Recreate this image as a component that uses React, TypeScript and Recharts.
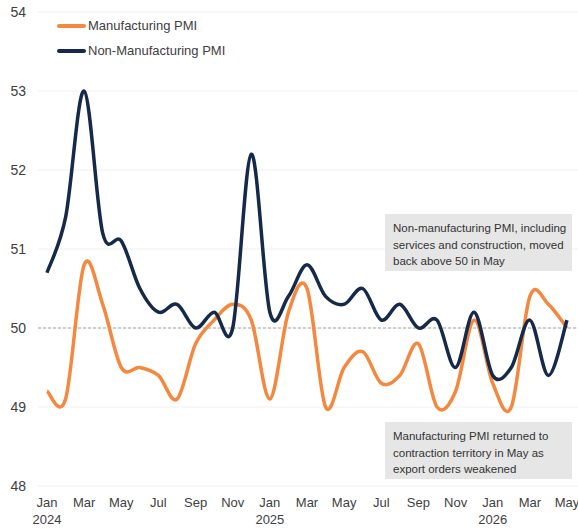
import React from "react";
import { LineChart, Line, XAxis, YAxis, CartesianGrid, ReferenceLine } from "recharts";

const MONTHS = [
  "Jan", "Feb", "Mar", "Apr", "May", "Jun", "Jul", "Aug", "Sep", "Oct", "Nov", "Dec",
  "Jan", "Feb", "Mar", "Apr", "May", "Jun", "Jul", "Aug", "Sep", "Oct", "Nov", "Dec",
  "Jan", "Feb", "Mar", "Apr", "May",
];
const YEARS = ["2024", "2025", "2026"];

const manufacturing = [
  49.2, 49.1, 50.8, 50.3, 49.5, 49.5, 49.4, 49.1, 49.8, 50.1, 50.3, 50.1,
  49.1, 50.2, 50.5, 49.0, 49.5, 49.7, 49.3, 49.4, 49.8, 49.0, 49.2, 50.1,
  49.3, 49.0, 50.4, 50.3, 50.0,
];
const nonManufacturing = [
  50.7, 51.4, 53.0, 51.2, 51.1, 50.5, 50.2, 50.3, 50.0, 50.2, 50.0, 52.2,
  50.2, 50.4, 50.8, 50.4, 50.3, 50.5, 50.1, 50.3, 50.0, 50.1, 49.5, 50.2,
  49.4, 49.5, 50.1, 49.4, 50.1,
];
const Y_TICKS = [48, 49, 50, 51, 52, 53, 54];

const ORANGE = "#F5883F";
const NAVY = "#15294A";

const data = MONTHS.map((m, i) => ({
  idx: i,
  month: m,
  year: m === "Jan" ? YEARS[Math.floor(i / 12)] : "",
  mfg: manufacturing[i],
  nonMfg: nonManufacturing[i],
}));

// smooth curve similar to spreadsheet "smoothed line"
const smoothCurve = (context: any) => {
  let pts: [number, number][] = [];
  return {
    areaStart() {},
    areaEnd() {},
    lineStart() {
      pts = [];
    },
    point(x: number, y: number) {
      pts.push([+x, +y]);
    },
    lineEnd() {
      if (!pts.length) return;
      context.moveTo(pts[0][0], pts[0][1]);
      for (let i = 0; i < pts.length - 1; i++) {
        const p0 = pts[i - 1] || pts[i];
        const p1 = pts[i];
        const p2 = pts[i + 1];
        const p3 = pts[i + 2] || p2;
        const c1x = p1[0] + (p2[0] - p0[0]) / 6;
        const c1y = p1[1] + (p2[1] - p0[1]) / 6;
        const c2x = p2[0] - (p3[0] - p1[0]) / 6;
        const c2y = p2[1] - (p3[1] - p1[1]) / 6;
        context.bezierCurveTo(c1x, c1y, c2x, c2y, p2[0], p2[1]);
      }
    },
  };
};

const FONT = "'Liberation Sans', Arial, sans-serif";

const MonthTick = (props: any) => {
  const { x, y, payload } = props;
  const d = data[payload.value];
  return (
    <g transform={`translate(${x},${y})`}>
      <text x={0} y={0} dy={13} textAnchor="middle" fill="#404040" fontSize={13} fontFamily={FONT}>
        {d.month}
      </text>
      {d.year && (
        <text x={0} y={0} dy={30} textAnchor="middle" fill="#404040" fontSize={13} fontFamily={FONT}>
          {d.year}
        </text>
      )}
    </g>
  );
};

const legendItems = [
  { name: "Manufacturing PMI", color: ORANGE },
  { name: "Non-Manufacturing PMI", color: NAVY },
];

const boxStyle: React.CSSProperties = {
  position: "absolute",
  left: 385,
  width: 187,
  height: 57,
  background: "#E6E6E6",
  boxSizing: "border-box",
  padding: "6px 8px",
  fontFamily: FONT,
  fontSize: 11.5,
  lineHeight: "16.5px",
  color: "#333",
  whiteSpace: "nowrap",
};

export default function App() {
  return (
    <div style={{ position: "absolute", left: 0, top: 0, width: 578, height: 529, background: "#fff" }}>
      <LineChart width={578} height={529} data={data} margin={{ top: 12, right: 0, bottom: 0, left: 0 }}>
        <CartesianGrid vertical={false} stroke="#F0F0F0" />
        <XAxis
          dataKey="idx"
          type="number"
          domain={[0, 28]}
          ticks={data.filter((_, i) => i % 2 === 0).map((d) => d.idx)}
          tick={<MonthTick />}
          axisLine={false}
          tickLine={false}
          padding={{ left: 9, right: 11 }}
          height={43}
        />
        <YAxis
          domain={[48, 54]}
          ticks={Y_TICKS}
          width={38}
          axisLine={false}
          tickLine={false}
          tickSize={0}
          tickMargin={12}
          tick={{ fill: "#404040", fontSize: 14, fontFamily: FONT }}
        />
        <ReferenceLine y={50} stroke="#A6A6A6" strokeDasharray="3 2" />
        <Line
          dataKey="mfg"
          name="Manufacturing PMI"
          type={smoothCurve as any}
          stroke={ORANGE}
          strokeWidth={3.5}
          dot={false}
          isAnimationActive={false}
        />
        <Line
          dataKey="nonMfg"
          name="Non-Manufacturing PMI"
          type={smoothCurve as any}
          stroke={NAVY}
          strokeWidth={3.5}
          dot={false}
          isAnimationActive={false}
        />
      </LineChart>
      <div style={{ position: "absolute", left: 57, top: 13, fontFamily: FONT, fontSize: 13, color: "#404040" }}>
        {legendItems.map((it) => (
          <div key={it.name} style={{ display: "flex", alignItems: "center", height: 25 }}>
            <span style={{ display: "inline-block", width: 29, height: 4, borderRadius: 2, background: it.color }} />
            <span style={{ marginLeft: 2 }}>{it.name}</span>
          </div>
        ))}
      </div>
      <div style={{ ...boxStyle, top: 214 }}>
        Non-manufacturing PMI, including
        <br />
        services and construction, moved
        <br />
        back above 50 in May
      </div>
      <div style={{ ...boxStyle, top: 422 }}>
        Manufacturing PMI returned to
        <br />
        contraction territory in May as
        <br />
        export orders weakened
      </div>
    </div>
  );
}
